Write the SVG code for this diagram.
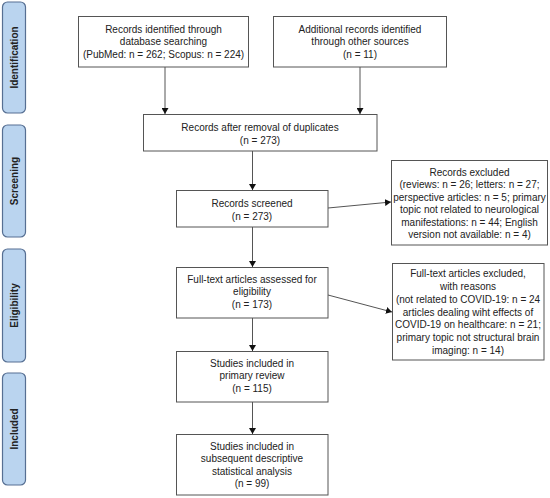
<svg xmlns="http://www.w3.org/2000/svg" width="550" height="498" viewBox="0 0 550 498">
<style>
.box{fill:#fff;stroke:#555;stroke-width:1}
.side{fill:#bad4ef;stroke:#566f93;stroke-width:1.2}
.t{font-family:"Liberation Sans",Arial,sans-serif;font-size:10px;fill:#222;text-anchor:middle}
.s{font-family:"Liberation Sans",Arial,sans-serif;font-size:10px;font-weight:bold;fill:#222;text-anchor:middle}
.c{stroke:#555;stroke-width:1;fill:none;marker-end:url(#ah)}
</style>
<defs>
<marker id="ah" markerUnits="userSpaceOnUse" markerWidth="7" markerHeight="7" refX="6" refY="3.5" orient="auto">
<path d="M0,0 L6,3.5 L0,7 Z" fill="#111"/>
</marker>
</defs>
<rect width="550" height="498" fill="#fff"/>
<g id="side-identification"><rect class="side" x="2.5" y="2" width="23" height="111" rx="5"/><text class="s" transform="translate(18,57.5) rotate(-90)">Identification</text></g>
<g id="side-screening"><rect class="side" x="2.5" y="125" width="23" height="112" rx="5"/><text class="s" transform="translate(18,181) rotate(-90)">Screening</text></g>
<g id="side-eligibility"><rect class="side" x="2.5" y="249" width="23" height="113" rx="5"/><text class="s" transform="translate(18,305.5) rotate(-90)">Eligibility</text></g>
<g id="side-included"><rect class="side" x="2.5" y="373" width="23" height="112" rx="5"/><text class="s" transform="translate(18,429) rotate(-90)">Included</text></g>
<g id="connectors">
<line class="c" x1="165" y1="67" x2="165" y2="114"/>
<line class="c" x1="360" y1="67" x2="360" y2="114"/>
<line class="c" x1="252.5" y1="151" x2="252.5" y2="190"/>
<line class="c" x1="328" y1="208" x2="391" y2="202"/>
<line class="c" x1="252.5" y1="227" x2="252.5" y2="267"/>
<line class="c" x1="328" y1="295" x2="392" y2="312"/>
<line class="c" x1="252.5" y1="318" x2="252.5" y2="351"/>
<line class="c" x1="252.5" y1="402" x2="252.5" y2="434"/>
</g>
<g id="n1"><rect class="box" x="78.5" y="16.5" width="170" height="50.5"/>
<text class="t" x="163.5" y="32.5">Records identified through</text>
<text class="t" x="163.5" y="45">database searching</text>
<text class="t" x="163.5" y="57.5">(PubMed: n = 262; Scopus: n = 224)</text></g>
<g id="n2"><rect class="box" x="273.5" y="16.5" width="173" height="50.5"/>
<text class="t" x="360" y="32.5">Additional records identified</text>
<text class="t" x="360" y="45">through other sources</text>
<text class="t" x="360" y="57.5">(n = 11)</text></g>
<g id="n3"><rect class="box" x="143.5" y="114.5" width="233.5" height="36.5"/>
<text class="t" x="260" y="130.5">Records after removal of duplicates</text>
<text class="t" x="260" y="144">(n = 273)</text></g>
<g id="n4"><rect class="box" x="176.5" y="190.5" width="151.5" height="36.5"/>
<text class="t" x="252" y="207">Records screened</text>
<text class="t" x="252" y="220">(n = 273)</text></g>
<g id="n5"><rect class="box" x="391.5" y="160.5" width="156" height="84.5"/>
<text class="t" x="469.5" y="176">Records excluded</text>
<text class="t" x="469.5" y="188.4">(reviews: n = 26; letters: n = 27;</text>
<text class="t" x="469.5" y="200.8">perspective articles: n = 5; primary</text>
<text class="t" x="469.5" y="213.2">topic not related to neurological</text>
<text class="t" x="469.5" y="225.6">manifestations: n = 44; English</text>
<text class="t" x="469.5" y="238">version not available: n = 4)</text></g>
<g id="n6"><rect class="box" x="176.5" y="267.5" width="151.5" height="50.5"/>
<text class="t" x="252" y="282.5">Full-text articles assessed for</text>
<text class="t" x="252" y="295">eligibility</text>
<text class="t" x="252" y="307.5">(n = 173)</text></g>
<g id="n7"><rect class="box" x="392.5" y="263.5" width="151.5" height="96.5"/>
<text class="t" x="468" y="276.8">Full-text articles excluded,</text>
<text class="t" x="468" y="289.7">with reasons</text>
<text class="t" x="468" y="302.6">(not related to COVID-19: n = 24</text>
<text class="t" x="468" y="315.5">articles dealing wiht effects of</text>
<text class="t" x="468" y="328.4">COVID-19 on healthcare: n = 21;</text>
<text class="t" x="468" y="341.3">primary topic not structural brain</text>
<text class="t" x="468" y="354.2">imaging: n = 14)</text></g>
<g id="n8"><rect class="box" x="176.5" y="351.5" width="151.5" height="50.5"/>
<text class="t" x="252" y="366.5">Studies included in</text>
<text class="t" x="252" y="379">primary review</text>
<text class="t" x="252" y="391.5">(n = 115)</text></g>
<g id="n9"><rect class="box" x="176.5" y="434.5" width="151.5" height="60.5"/>
<text class="t" x="252" y="449.5">Studies included in</text>
<text class="t" x="252" y="462">subsequent descriptive</text>
<text class="t" x="252" y="474.5">statistical analysis</text>
<text class="t" x="252" y="487">(n = 99)</text></g>
</svg>
